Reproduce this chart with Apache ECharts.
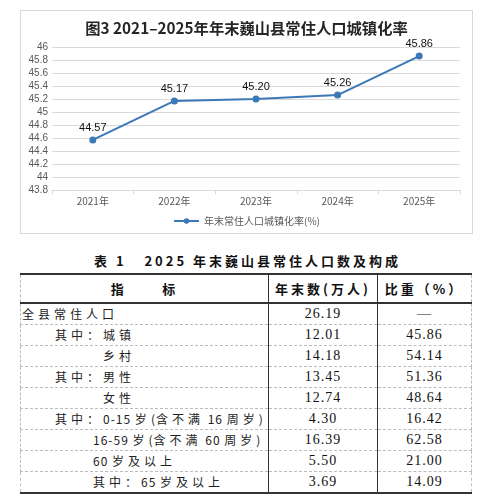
<!DOCTYPE html>
<html>
<head>
<meta charset="utf-8">
<script src="https://cdn.jsdelivr.net/npm/echarts@6/dist/echarts.min.js"></script>
<style>
  html, body { margin: 0; padding: 0; background: #fff; }
  body { width: 495px; height: 503px; position: relative; overflow: hidden;
         font-family: "Noto Sans CJK SC", sans-serif; }
  #chart { position: absolute; left: 20px; top: 10px; width: 451px; height: 222px;
           border: 1px solid #d9d9d9; }
  #tableTitle { position: absolute; left: 0; width: 495px; top: 251px; height: 20px;
                line-height: 20px; text-align: center; font-size: 13px; font-weight: bold;
                letter-spacing: 3px; color: #111; white-space: pre; }
  table { position: absolute; left: 20px; top: 273px; width: 451px; border-collapse: collapse;
          table-layout: fixed; }
  td, th { padding: 0; white-space: pre; overflow: hidden; }
  th { height: 27px; font-size: 13px; font-weight: bold; letter-spacing: 3px; color: #111;
       border-top: 2px solid #333; border-bottom: 2px solid #333; }
  td { height: 20px; line-height: 20px; border-bottom: 1px dashed #bdbdbd; font-size: 12px;
       color: #222; }
  td.num { text-align: center; font-family: "Liberation Serif", serif; font-size: 14px;
           letter-spacing: 1px; color: #111; }
  td.lab { letter-spacing: 4px; }
  td.lab span { letter-spacing: 1px; }
  .c1 { border-left: 1px dashed #bdbdbd; border-right: 1px solid #333; }
  .c2 { border-right: 1px solid #333; }
  .c3 { border-right: 1px dashed #bdbdbd; }
  tr:last-child td { border-bottom: 2px solid #333; }
</style>
</head>
<body>
<div id="chart"></div>
<div id="tableTitle"></div>
<table id="tbl"></table>
<script>
// 图3 数据
var years = ['2021年', '2022年', '2023年', '2024年', '2025年'];
var urbanRate = [44.57, 45.17, 45.20, 45.26, 45.86];
var chartTitle = '图3 2021–2025年年末巍山县常住人口城镇化率';
var seriesName = '年末常住人口城镇化率(%)';

// 表1 数据
var tableTitle = '表 1   2025 年末巍山县常住人口数及构成';
var headers = ['指      标', '年末数(万人)', '比重（%）'];
var rowLabels = ['全县常住人口', '其中：城镇', '乡村', '其中：男性', '女性',
  '其中：0-15 岁(含不满 16 周岁)', '16-59 岁(含不满 60 周岁)', '60 岁及以上', '其中：65 岁及以上'];
var rowCounts = ['26.19', '12.01', '14.18', '13.45', '12.74', '4.30', '16.39', '5.50', '3.69'];
var rowShares = ['—', '45.86', '54.14', '51.36', '48.64', '16.42', '62.58', '21.00', '14.09'];

// 首列缩进（版式）
var rowIndent = [1, 34, 82, 34, 82, 34, 72, 72, 72];

var chart = echarts.init(document.getElementById('chart'), null, { renderer: 'canvas' });
chart.setOption({
  animation: false,
  title: {
    text: chartTitle, left: 'center', top: 5,
    textStyle: { fontSize: 15.3, fontWeight: 'bold', color: '#262626', fontFamily: 'Noto Sans CJK SC' }
  },
  legend: {
    bottom: 2, left: 'center', itemWidth: 25, itemHeight: 7, itemGap: 4,
    textStyle: { fontSize: 10, color: '#595959', fontFamily: 'Noto Sans CJK SC' },
    data: [seriesName]
  },
  grid: { left: 31, right: 12, top: 36, bottom: 43, containLabel: false },
  xAxis: {
    type: 'category', data: years, boundaryGap: true,
    axisLine: { lineStyle: { color: '#d9d9d9' } },
    axisTick: { show: true, length: 4, lineStyle: { color: '#d9d9d9' } },
    axisLabel: { fontSize: 10, color: '#595959', margin: 6, fontFamily: 'Noto Sans CJK SC' }
  },
  yAxis: {
    type: 'value', min: 43.8, max: 46, interval: 0.2,
    axisLine: { show: false }, axisTick: { show: false },
    axisLabel: { fontSize: 10, color: '#595959', margin: 4, fontFamily: 'Liberation Sans',
      formatter: function (v) { return String(Math.round(v * 10) / 10); } },
    splitLine: { lineStyle: { color: '#d9d9d9' } }
  },
  series: [{
    name: seriesName, type: 'line', data: urbanRate,
    symbol: 'circle', symbolSize: 7,
    itemStyle: { color: '#3b78b8' },
    lineStyle: { width: 2, color: '#3b78b8' },
    label: {
      show: true, position: 'top', distance: 3, fontSize: 11, color: '#111',
      fontFamily: 'Liberation Sans',
      formatter: function (p) { return p.value.toFixed(2); }
    }
  }]
});

document.getElementById('tableTitle').textContent = tableTitle;

// 西文字符不加宽字距
function labelHtml(s) {
  return s.replace(/[\x20-\x7e]+/g, function (m) { return '<span>' + m + '</span>'; });
}

var tbl = document.getElementById('tbl');
var cols = '<colgroup><col style="width:248px"><col style="width:109px"><col style="width:94px"></colgroup>';
var html = cols + '<tr>' +
  '<th class="c1">' + headers[0] + '</th>' +
  '<th class="c2">' + headers[1] + '</th>' +
  '<th class="c3">' + headers[2] + '</th></tr>';
for (var i = 0; i < rowLabels.length; i++) {
  html += '<tr>' +
    '<td class="c1 lab" style="padding-left:' + rowIndent[i] + 'px">' + labelHtml(rowLabels[i]) + '</td>' +
    '<td class="c2 num">' + rowCounts[i] + '</td>' +
    '<td class="c3 num">' + rowShares[i] + '</td></tr>';
}
tbl.innerHTML = html;
</script>
</body>
</html>
